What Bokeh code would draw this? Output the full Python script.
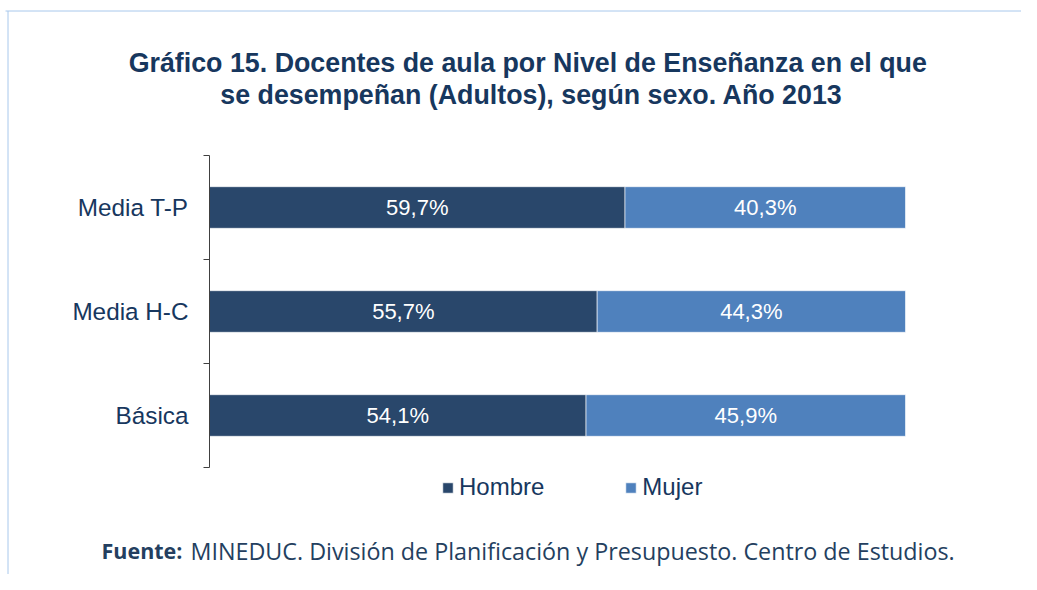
from bokeh.plotting import figure
from bokeh.models import (Range1d, FixedTicker, Label, Legend, LegendItem, Arrow,
                          ColumnDataSource)
from bokeh.embed import file_html
from bokeh.resources import INLINE

# ---- data ----
categories = ["Básica", "Media H-C", "Media T-P"]
hombre = [54.1, 55.7, 59.7]
mujer = [45.9, 44.3, 40.3]
series_names = ["Hombre", "Mujer"]
title_lines = ["Gráfico 15. Docentes  de aula por Nivel de Enseñanza en el que",
               "se desempeñan (Adultos), según sexo. Año 2013"]
source_bold = "Fuente:"
source_text = "MINEDUC. División de Planificación y Presupuesto. Centro de Estudios."

# ---- styles ----
C_H = "#29476B"
C_M = "#4F81BD"
NAVY = "#17375E"
FONT = "Liberation Sans"

W, H = 1021, 574
# bar area in pixels (value 0..100 -> x 209..905, categories span y 467..155)
X0, X1 = 209, 905
Y0, Y1 = 467, 155
PX_X = (X1 - X0) / 100.0
PX_Y = (Y0 - Y1) / len(categories)

def dx(px):
    return (px - X0) / PX_X
def dy(py):
    return (Y0 - py) / PX_Y

p = figure(width=W, height=H, output_backend="svg", toolbar_location=None,
           x_range=Range1d(dx(0), dx(W)), y_range=Range1d(dy(H), dy(0)),
           min_border=0)
p.outline_line_color = None
p.grid.visible = False
p.xaxis.visible = False
p.background_fill_color = "white"
p.border_fill_color = "white"

ypos = [i + 0.5 for i in range(len(categories))]
src = ColumnDataSource(dict(y=ypos, h=hombre, m=mujer, lm=hombre[:],
                            rm=[h + m for h, m in zip(hombre, mujer)],
                            hl=[f"{v:.1f}%".replace(".", ",") for v in hombre],
                            ml=[f"{v:.1f}%".replace(".", ",") for v in mujer],
                            hx=[v / 2 for v in hombre],
                            mx=[a + b / 2 for a, b in zip(hombre, mujer)]))

rh = p.hbar(y="y", left=0, right="h", height=0.4, source=src, fill_color=C_H,
            line_color="white", line_width=0.6)
rm = p.hbar(y="y", left="lm", right="rm", height=0.4, source=src, fill_color=C_M,
            line_color="white", line_width=0.6)

p.text(x="hx", y="y", text="hl", source=src, text_align="center", text_baseline="middle",
       text_color="white", text_font_size="22px", text_font={"value": FONT})
p.text(x="mx", y="y", text="ml", source=src, text_align="center", text_baseline="middle",
       text_color="white", text_font_size="22px", text_font={"value": FONT})

# y axis drawn at x=0 with boundary ticks
ax = p.yaxis[0]
ax.fixed_location = 0
ax.bounds = (0, len(categories))
ax.ticker = FixedTicker(ticks=ypos, minor_ticks=list(range(len(categories) + 1)))
ax.major_label_overrides = {y: c for y, c in zip(ypos, categories)}
ax.major_tick_line_color = None
ax.major_tick_out = 0
ax.major_tick_in = 0
ax.minor_tick_out = 6
ax.minor_tick_in = 0
ax.minor_tick_line_color = "#404040"
ax.axis_line_color = "#404040"
ax.major_label_standoff = 15
ax.major_label_text_font = FONT
ax.major_label_text_font_size = "24.3px"
ax.major_label_text_color = NAVY

# legend
legend = Legend(items=[LegendItem(label=series_names[0], renderers=[rh]),
                       LegendItem(label=series_names[1], renderers=[rm])],
                orientation="horizontal", location=(441, H - 501),
                glyph_width=13, glyph_height=13, label_standoff=5, spacing=80,
                padding=0, margin=0, border_line_color=None, background_fill_alpha=0,
                label_text_font=FONT, label_text_font_size="24px",
                label_text_color=NAVY)
p.add_layout(legend, "center")

# title
for t, py in zip(title_lines, [62, 94]):
    p.add_layout(Label(x=dx(531), y=dy(py), text=t, text_align="center",
                       text_baseline="middle", text_font=FONT, text_font_style="bold",
                       text_font_size="26.8px", text_color=NAVY))

# source
p.add_layout(Label(x=dx(101), y=dy(550), text=source_bold, text_baseline="middle",
                   text_font="Open Sans", text_font_style="bold", text_font_size="21.5px",
                   text_color="#243F60"))
p.add_layout(Label(x=dx(190), y=dy(550), text=source_text, text_baseline="middle",
                   text_font="Open Sans", text_font_size="23.3px", text_color="#243F60"))

# light-blue frame lines
BL = "#A8C8EC"
p.add_layout(Arrow(end=None, x_start=dx(5), y_start=dy(10.5), x_end=dx(W), y_end=dy(10.5),
                   line_color=BL, line_width=1))
p.add_layout(Arrow(end=None, x_start=dx(7.5), y_start=dy(10.5), x_end=dx(7.5), y_end=dy(H),
                   line_color=BL, line_width=1))

open("out.html", "w").write(file_html(p, INLINE))
